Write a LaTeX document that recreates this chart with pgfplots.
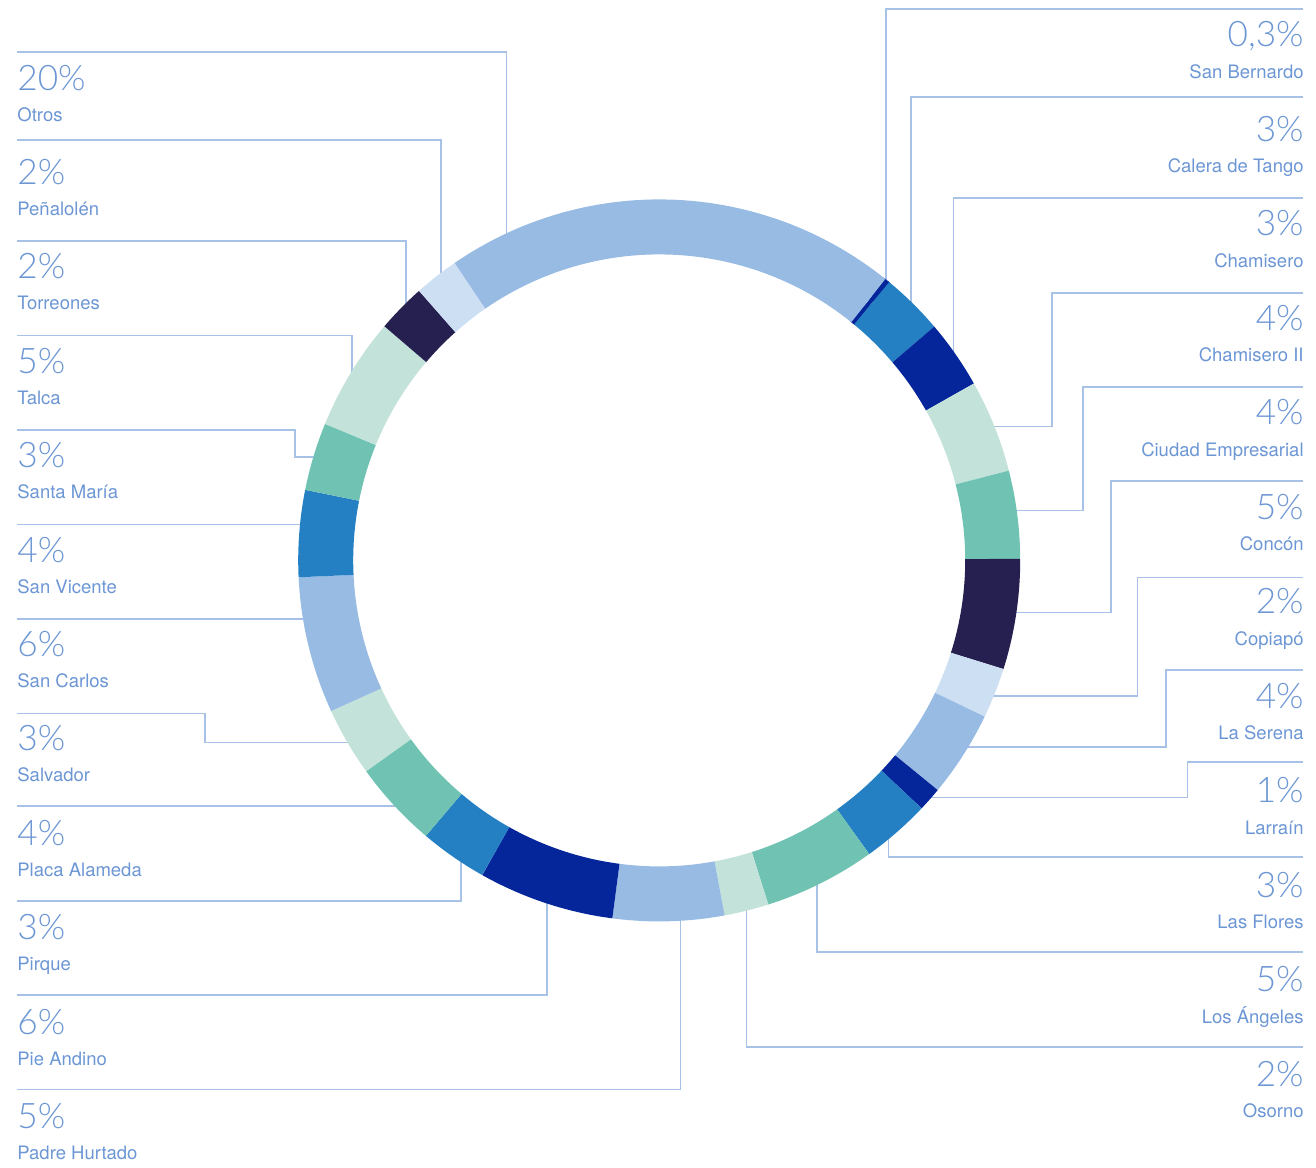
\documentclass[border=0pt]{standalone}
\usepackage{fontspec}
\setmainfont{TeX Gyre Heros}
\IfFontExistsTF{Lato Light}{\newfontfamily\pctfont{Lato Light}}{\newfontfamily\pctfont{TeX Gyre Heros}}
\usepackage{pgfplots}
\pgfplotsset{compat=1.18}

\definecolor{cLight}{RGB}{152,187,228}
\definecolor{cPale}{RGB}{205,223,243}
\definecolor{cNavy}{RGB}{37,32,79}
\definecolor{cMint}{RGB}{195,226,218}
\definecolor{cTeal}{RGB}{112,195,179}
\definecolor{cMed}{RGB}{36,127,195}
\definecolor{cDark}{RGB}{5,37,154}
\definecolor{txt}{RGB}{108,150,212}
\definecolor{lin}{RGB}{168,193,231}

% ring geometry (px units of the reference)
\gdef\segcum{38.85}
\newcommand\seg[2]{%
  \pgfmathsetmacro\segA{\segcum}%
  \pgfmathsetmacro\segB{\segcum+3.6*#2}%
  \xdef\segcum{\segB}%
  \edef\doseg{\noexpand\addplot[draw=#1, line width=27.5pt, line cap=butt, domain=\segA:\segB, samples=60] ({659.2+333.5*sin(x)},{560.4-333.5*cos(x)});}%
  \doseg
}
\newcommand\pctfnt{\pctfont\fontsize{17.6}{20}\selectfont}
\newcommand\namefnt{\fontsize{9.25}{11}\selectfont}
\newcommand\lleft[4]{%
  \node[anchor=base west, inner sep=0, text=txt, font=\pctfnt] at (axis cs:17,#1) {#3};
  \node[anchor=base west, inner sep=0, text=txt, font=\namefnt] at (axis cs:17,#2) {#4};}
\newcommand\lright[4]{%
  \node[anchor=base east, inner sep=0, text=txt, font=\pctfnt] at (axis cs:1304,#1) {#3};
  \node[anchor=base east, inner sep=0, text=txt, font=\namefnt] at (axis cs:1304,#2) {#4};}

\begin{document}
\begin{tikzpicture}
\begin{axis}[x=0.5pt, y=0.5pt, xmin=0, xmax=1316, ymin=0, ymax=1167,
  y dir=reverse, hide axis, clip=false]
\addplot[draw=none] coordinates {(0,0) (1316,1167)};
% leader lines (left)
\addplot[lin, line width=0.8pt] coordinates {(17,52) (506.3,52) (506.3,250)};
\addplot[lin, line width=0.8pt] coordinates {(17,140) (440.7,140) (440.7,290)};
\addplot[lin, line width=0.8pt] coordinates {(17,241) (406,241) (406,320)};
\addplot[lin, line width=0.8pt] coordinates {(17,335.3) (352,335.3) (352,390)};
\addplot[lin, line width=0.8pt] coordinates {(17,430) (294.7,430) (294.7,457) (330,457)};
\addplot[lin, line width=0.8pt] coordinates {(17,524.3) (320,524.3)};
\addplot[lin, line width=0.8pt] coordinates {(17,619) (320,619)};
\addplot[lin, line width=0.8pt] coordinates {(17,713.3) (205,713.3) (205,742.3) (365,742.3)};
\addplot[lin, line width=0.8pt] coordinates {(17,805.7) (410,805.7)};
\addplot[lin, line width=0.8pt] coordinates {(17,900.7) (460.7,900.7) (460.7,845)};
\addplot[lin, line width=0.8pt] coordinates {(17,995) (547,995) (547,885)};
\addplot[lin, line width=0.8pt] coordinates {(17,1089.3) (680.3,1089.3) (680.3,900)};
% leader lines (right)
\addplot[lin, line width=0.8pt] coordinates {(1303,9) (885.7,9) (885.7,295)};
\addplot[lin, line width=0.8pt] coordinates {(1303,96.7) (911,96.7) (911,315)};
\addplot[lin, line width=0.8pt] coordinates {(1303,198) (953.3,198) (953.3,365)};
\addplot[lin, line width=0.8pt] coordinates {(1303,292.7) (1052,292.7) (1052,426.3) (980,426.3)};
\addplot[lin, line width=0.8pt] coordinates {(1303,386.7) (1082.7,386.7) (1082.7,510.3) (1000,510.3)};
\addplot[lin, line width=0.8pt] coordinates {(1303,481) (1110.7,481) (1110.7,612.3) (1000,612.3)};
\addplot[lin, line width=0.8pt] coordinates {(1303,577.3) (1137.3,577.3) (1137.3,695.7) (980,695.7)};
\addplot[lin, line width=0.8pt] coordinates {(1303,670) (1165.7,670) (1165.7,746.7) (955,746.7)};
\addplot[lin, line width=0.8pt] coordinates {(1303,762) (1187.3,762) (1187.3,797.3) (920,797.3)};
\addplot[lin, line width=0.8pt] coordinates {(1303,856.7) (888.3,856.7) (888.3,830)};
\addplot[lin, line width=0.8pt] coordinates {(1303,952) (817,952) (817,875)};
\addplot[lin, line width=0.8pt] coordinates {(1303,1047) (746.4,1047) (746.4,900)};
% ring segments: colour, share (%), clockwise from 38.85 deg
\seg{cDark}{0.2}      % San Bernardo
\seg{cMed}{2.8}       % Calera de Tango
\seg{cDark}{3.06}     % Chamisero
\seg{cMint}{4.15}     % Chamisero II
\seg{cTeal}{3.93}     % Ciudad Empresarial
\seg{cNavy}{4.94}     % Concon
\seg{cPale}{2.25}     % Copiapo
\seg{cLight}{3.86}    % La Serena
\seg{cDark}{1.07}     % Larrain
\seg{cMed}{3.07}      % Las Flores
\seg{cTeal}{4.99}     % Los Angeles
\seg{cMint}{1.99}     % Osorno
\seg{cLight}{4.97}    % Padre Hurtado
\seg{cDark}{6.08}     % Pie Andino
\seg{cMed}{3.03}      % Pirque
\seg{cTeal}{3.89}     % Placa Alameda
\seg{cMint}{3.07}     % Salvador
\seg{cLight}{6.11}    % San Carlos
\seg{cMed}{3.875}     % San Vicente
\seg{cTeal}{3.04}     % Santa Maria
\seg{cMint}{5.06}     % Talca
\seg{cNavy}{2.18}     % Torreones
\seg{cPale}{1.99}     % Penalolen
\seg{cLight}{20.39}   % Otros
% labels
\lleft{90}{121}{20\%}{Otros}
\lleft{184.4}{215.4}{2\%}{Peñalolén}
\lleft{278.8}{309.8}{2\%}{Torreones}
\lleft{373.2}{404.2}{5\%}{Talca}
\lleft{467.6}{498.6}{3\%}{Santa María}
\lleft{562}{593}{4\%}{San Vicente}
\lleft{656.4}{687.4}{6\%}{San Carlos}
\lleft{750.8}{781.8}{3\%}{Salvador}
\lleft{845.2}{876.2}{4\%}{Placa Alameda}
\lleft{939.6}{970.6}{3\%}{Pirque}
\lleft{1034}{1065}{6\%}{Pie Andino}
\lleft{1128.4}{1159.4}{5\%}{Padre Hurtado}
\lright{46.7}{78.3}{0,3\%}{San Bernardo}
\lright{141.2}{172.8}{3\%}{Calera de Tango}
\lright{235.7}{267.3}{3\%}{Chamisero}
\lright{330.2}{361.8}{4\%}{Chamisero II}
\lright{424.7}{456.3}{4\%}{Ciudad Empresarial}
\lright{519.2}{550.8}{5\%}{Concón}
\lright{613.7}{645.3}{2\%}{Copiapó}
\lright{708.2}{739.8}{4\%}{La Serena}
\lright{802.7}{834.3}{1\%}{Larraín}
\lright{897.2}{928.8}{3\%}{Las Flores}
\lright{991.7}{1023.3}{5\%}{Los Ángeles}
\lright{1086.2}{1117.8}{2\%}{Osorno}
\end{axis}
\end{tikzpicture}
\end{document}
